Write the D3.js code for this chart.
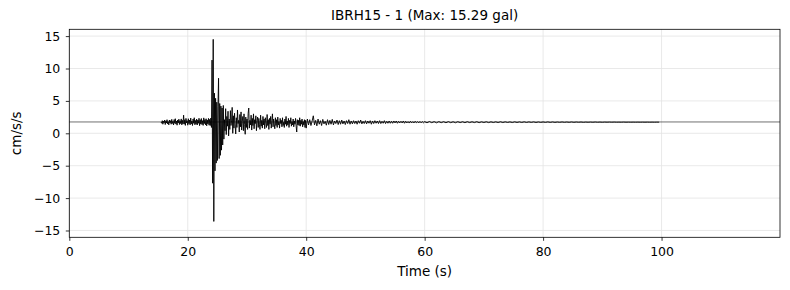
<!DOCTYPE html>
<html>
<head>
<meta charset="utf-8">
<script src="https://cdn.jsdelivr.net/npm/d3@7"></script>
<style>
  body { margin: 0; background: #fff; }
  text { font-family: "DejaVu Sans", sans-serif; fill: #000; }
</style>
</head>
<body>
<div id="canvas"></div>
<script>
"use strict"

/* Configuration variables: drawing */
let svgWidth = 790;
let svgHeight = 290;
/* plot frame (pixels) */
let plotLeft = 69.3;
let plotRight = 780;
let plotTop = 29.3;
let plotBottom = 237.3;

/* Record data.
   seg1: 15.5 s .. 39.9 s every 0.1 s
   seg2: 40.0 s .. 59.8 s every 0.2 s
   seg3: 60.0 s .. 99.6 s every 0.4 s  (cm/s/s) */
let seg1Start = 15.5, seg1Dt = 0.1;
let seg1 = [
    1.72, 1.55, 1.95, 1.40, 1.88, 1.62, 2.05, 1.35, 1.92, 1.58,
    2.10, 1.45, 1.80, 1.30, 2.05, 1.60, 1.95, 1.40, 2.15, 1.52,
    1.85, 1.28, 2.12, 1.55, 2.25, 1.42, 1.90, 1.25, 2.05, 1.60,
    2.18, 1.36, 1.95, 1.50, 2.22, 1.30, 2.00, 1.45, 2.80, 1.40,
    2.10, 1.22, 2.30, 1.60, 1.95, 1.25, 2.25, 1.48, 2.05, 1.30,
    2.35, 1.45, 1.90, 1.20, 2.20, 1.55, 2.40, 1.32, 1.98, 1.40,
    2.20, 1.28, 2.05, 1.55, 2.32, 1.18, 2.10, 1.42, 2.28, 1.35,
    1.95, 1.22, 2.38, 1.50, 2.12, 1.30, 2.25, 1.15, 2.05, 1.45,
    2.30, 1.25, 2.15, 1.20, 2.35,
    0.90, 11.30, -7.70, 14.50, -13.60, 6.20, -5.80, 5.40, -4.60, 4.80,
    -4.20, 4.10, 8.50, -3.90, 4.60, -3.40, 4.20, -2.60, 3.90, -1.80,
    4.30, -0.90, 2.10, 0.40, 3.80, -0.20, 2.60, 1.10, 3.40, -0.40,
    2.20, 0.60, 3.50, 1.20, 1.90, 4.00, 0.00, 2.70, 0.80, 3.10,
    1.30, -0.10, 2.40, 0.90, 3.60, 1.50, 2.00, 0.20, 2.90, 1.00,
    3.30, 0.50, 1.80, 2.60, 0.40, 3.00, 1.40, -0.15, 2.50, 0.90,
    2.20, 0.60, 3.10, 3.90, 0.80, 2.00, 1.30, 2.80, 0.50, 2.30,
    1.20, 3.00, 0.70, 2.10, 1.50, 2.70, 0.40, 1.90, 2.50, 0.90,
    2.30, 1.40, 0.60, 2.80, 1.10, 2.00, 0.80, 2.60, 1.30, 2.20,
    0.70, 2.40, 1.60, 0.90, 2.90, 1.20, 2.10, 0.60, 2.30, 1.40,
    2.60, 0.80, 1.90, 3.00, 1.00, 2.20, 1.40, 0.70, 2.40, 1.20,
    2.10, 0.90, 2.50, 1.30, 1.80, 0.80, 2.30, 1.50, 2.00, 1.00,
    2.40, 1.20, 1.70, 0.90, 2.20, 1.40, 2.60, 1.10, 1.90, 1.30,
    2.30, 0.90, 2.00, 1.50, 2.40, 1.10, 1.80, 1.30, 2.20, 1.00,
    1.90, 1.40, 2.30, 1.10, 0.20, 2.10, 1.30, 2.00, 1.20, 2.40,
    1.10, 2.00, 1.40, 2.20, 1.00, 1.80, 1.30, 2.10, 0.90, 2.00
];
let seg2Start = 40.0, seg2Dt = 0.2;
let seg2 = [
    0.80, 2.20, 1.30, 2.10, 1.20, 1.90, 2.70, 1.30, 2.00, 1.15,
    2.20, 1.40, 1.95, 1.20, 2.15, 1.45, 1.85, 1.25, 2.10, 1.35,
    2.00, 1.40, 2.15, 1.30, 1.90, 1.50, 2.05, 1.35, 1.95, 1.40,
    2.05, 1.45, 1.90, 1.35, 1.95, 1.50, 2.10, 1.40, 1.90, 1.45,
    1.95, 1.50, 1.90, 1.40, 1.95, 1.55, 2.05, 1.45, 1.85, 1.50,
    1.95, 1.45, 1.90, 1.55, 1.95, 1.40, 1.90, 1.50, 1.95, 1.55,
    1.90, 1.50, 1.95, 1.50, 1.85, 1.55, 1.95, 1.50, 1.85, 1.55,
    1.90, 1.55, 1.85, 1.55, 1.90, 1.60, 1.90, 1.55, 1.85, 1.60,
    1.85, 1.60, 1.90, 1.55, 1.85, 1.60, 1.80, 1.58, 1.85, 1.60,
    1.80, 1.60, 1.85, 1.62, 1.80, 1.60, 1.82, 1.62, 1.80, 1.62
];
let seg3Start = 60.0, seg3Dt = 0.4;
let seg3 = [
    1.80, 1.62, 1.82, 1.64, 1.80, 1.62, 1.80, 1.64, 1.79, 1.63,
    1.80, 1.64, 1.78, 1.63, 1.79, 1.65, 1.78, 1.64, 1.79, 1.65,
    1.78, 1.65, 1.79, 1.64, 1.77, 1.66, 1.78, 1.65, 1.77, 1.66,
    1.77, 1.66, 1.78, 1.66, 1.77, 1.67, 1.76, 1.66, 1.77, 1.67,
    1.76, 1.67, 1.77, 1.67, 1.76, 1.68, 1.76, 1.67, 1.75, 1.68,
    1.75, 1.68, 1.76, 1.68, 1.75, 1.68, 1.74, 1.69, 1.75, 1.69,
    1.74, 1.69, 1.75, 1.69, 1.74, 1.70, 1.74, 1.69, 1.73, 1.70,
    1.73, 1.70, 1.74, 1.70, 1.73, 1.70, 1.73, 1.71, 1.73, 1.71,
    1.73, 1.71, 1.72, 1.71, 1.73, 1.71, 1.72, 1.71, 1.72, 1.71,
    1.72, 1.71, 1.72, 1.71, 1.72, 1.71, 1.72, 1.71, 1.72, 1.72
];
let meanLevel = 1.75;

/* ticks and texts */
let xTicks = [0, 20, 40, 60, 80, 100];
let yTicks = [-15, -10, -5, 0, 5, 10, 15];
let titleText = "IBRH15 - 1 (Max: 15.29 gal)";
let xLabelText = "Time (s)";
let yLabelText = "cm/s/s";
let xMax = 120;
let yLimit = 16.05;

/* turn the segments into [time, value] points */
let points = [];
function addSegment(start, dt, values) {
    for (let i = 0; i < values.length; i++) {
        points.push({ t: start + i * dt, a: values[i] });
    }
}
addSegment(seg1Start, seg1Dt, seg1);
addSegment(seg2Start, seg2Dt, seg2);
addSegment(seg3Start, seg3Dt, seg3);

let svg = d3.select("#canvas")
    .append("svg")
    .attr("width", svgWidth)
    .attr("height", svgHeight);

let xScale = d3.scaleLinear()
    .domain([0, xMax])
    .range([plotLeft, plotRight]);

let yScale = d3.scaleLinear()
    .domain([-yLimit, yLimit])
    .range([plotBottom, plotTop]);

/* grid */
svg.append("g")
    .selectAll("line")
    .data(xTicks)
    .join("line")
    .attr("x1", d => xScale(d))
    .attr("x2", d => xScale(d))
    .attr("y1", plotTop)
    .attr("y2", plotBottom)
    .attr("stroke", "#e3e3e3")
    .attr("stroke-width", 0.8);

svg.append("g")
    .selectAll("line")
    .data(yTicks)
    .join("line")
    .attr("x1", plotLeft)
    .attr("x2", plotRight)
    .attr("y1", d => yScale(d))
    .attr("y2", d => yScale(d))
    .attr("stroke", "#e3e3e3")
    .attr("stroke-width", 0.8);

/* mean level line */
svg.append("line")
    .attr("x1", plotLeft)
    .attr("x2", plotRight)
    .attr("y1", yScale(meanLevel))
    .attr("y2", yScale(meanLevel))
    .attr("stroke", "#333")
    .attr("stroke-width", 0.7);

/* waveform */
let line = d3.line()
    .x(d => xScale(d.t))
    .y(d => yScale(d.a));

svg.append("path")
    .datum(points)
    .attr("d", line)
    .attr("fill", "none")
    .attr("stroke", "black")
    .attr("stroke-width", 0.9)
    .attr("stroke-linejoin", "round");

/* axes */
let xAxis = d3.axisBottom(xScale)
    .tickValues(xTicks)
    .tickSize(3.5)
    .tickPadding(6)
    .tickFormat(d3.format("d"));

let yAxis = d3.axisLeft(yScale)
    .tickValues(yTicks)
    .tickSize(3.5)
    .tickPadding(5.5)
    .tickFormat(d3.format("d"));

let gx = svg.append("g")
    .attr("transform", `translate(0,${plotBottom})`)
    .call(xAxis);
let gy = svg.append("g")
    .attr("transform", `translate(${plotLeft},0)`)
    .call(yAxis);

[gx, gy].forEach(g => {
    g.select(".domain").remove();
    g.selectAll(".tick line").attr("stroke", "black").attr("stroke-width", 0.8);
    g.selectAll(".tick text")
        .attr("font-family", "DejaVu Sans")
        .attr("font-size", 12.5)
        .attr("fill", "black");
});

/* frame */
svg.append("rect")
    .attr("x", plotLeft)
    .attr("y", plotTop)
    .attr("width", plotRight - plotLeft)
    .attr("height", plotBottom - plotTop)
    .attr("fill", "none")
    .attr("stroke", "black")
    .attr("stroke-width", 0.8);

/* title and labels */
svg.append("text")
    .attr("x", (plotLeft + plotRight) / 2)
    .attr("y", 20)
    .attr("text-anchor", "middle")
    .attr("font-size", 13.5)
    .text(titleText);

svg.append("text")
    .attr("x", (plotLeft + plotRight) / 2)
    .attr("y", 276)
    .attr("text-anchor", "middle")
    .attr("font-size", 13.5)
    .text(xLabelText);

svg.append("text")
    .attr("x", -(plotTop + plotBottom) / 2)
    .attr("y", 21)
    .attr("text-anchor", "middle")
    .attr("font-size", 13.5)
    .attr("transform", "rotate(-90)")
    .text(yLabelText);
</script>
</body>
</html>
